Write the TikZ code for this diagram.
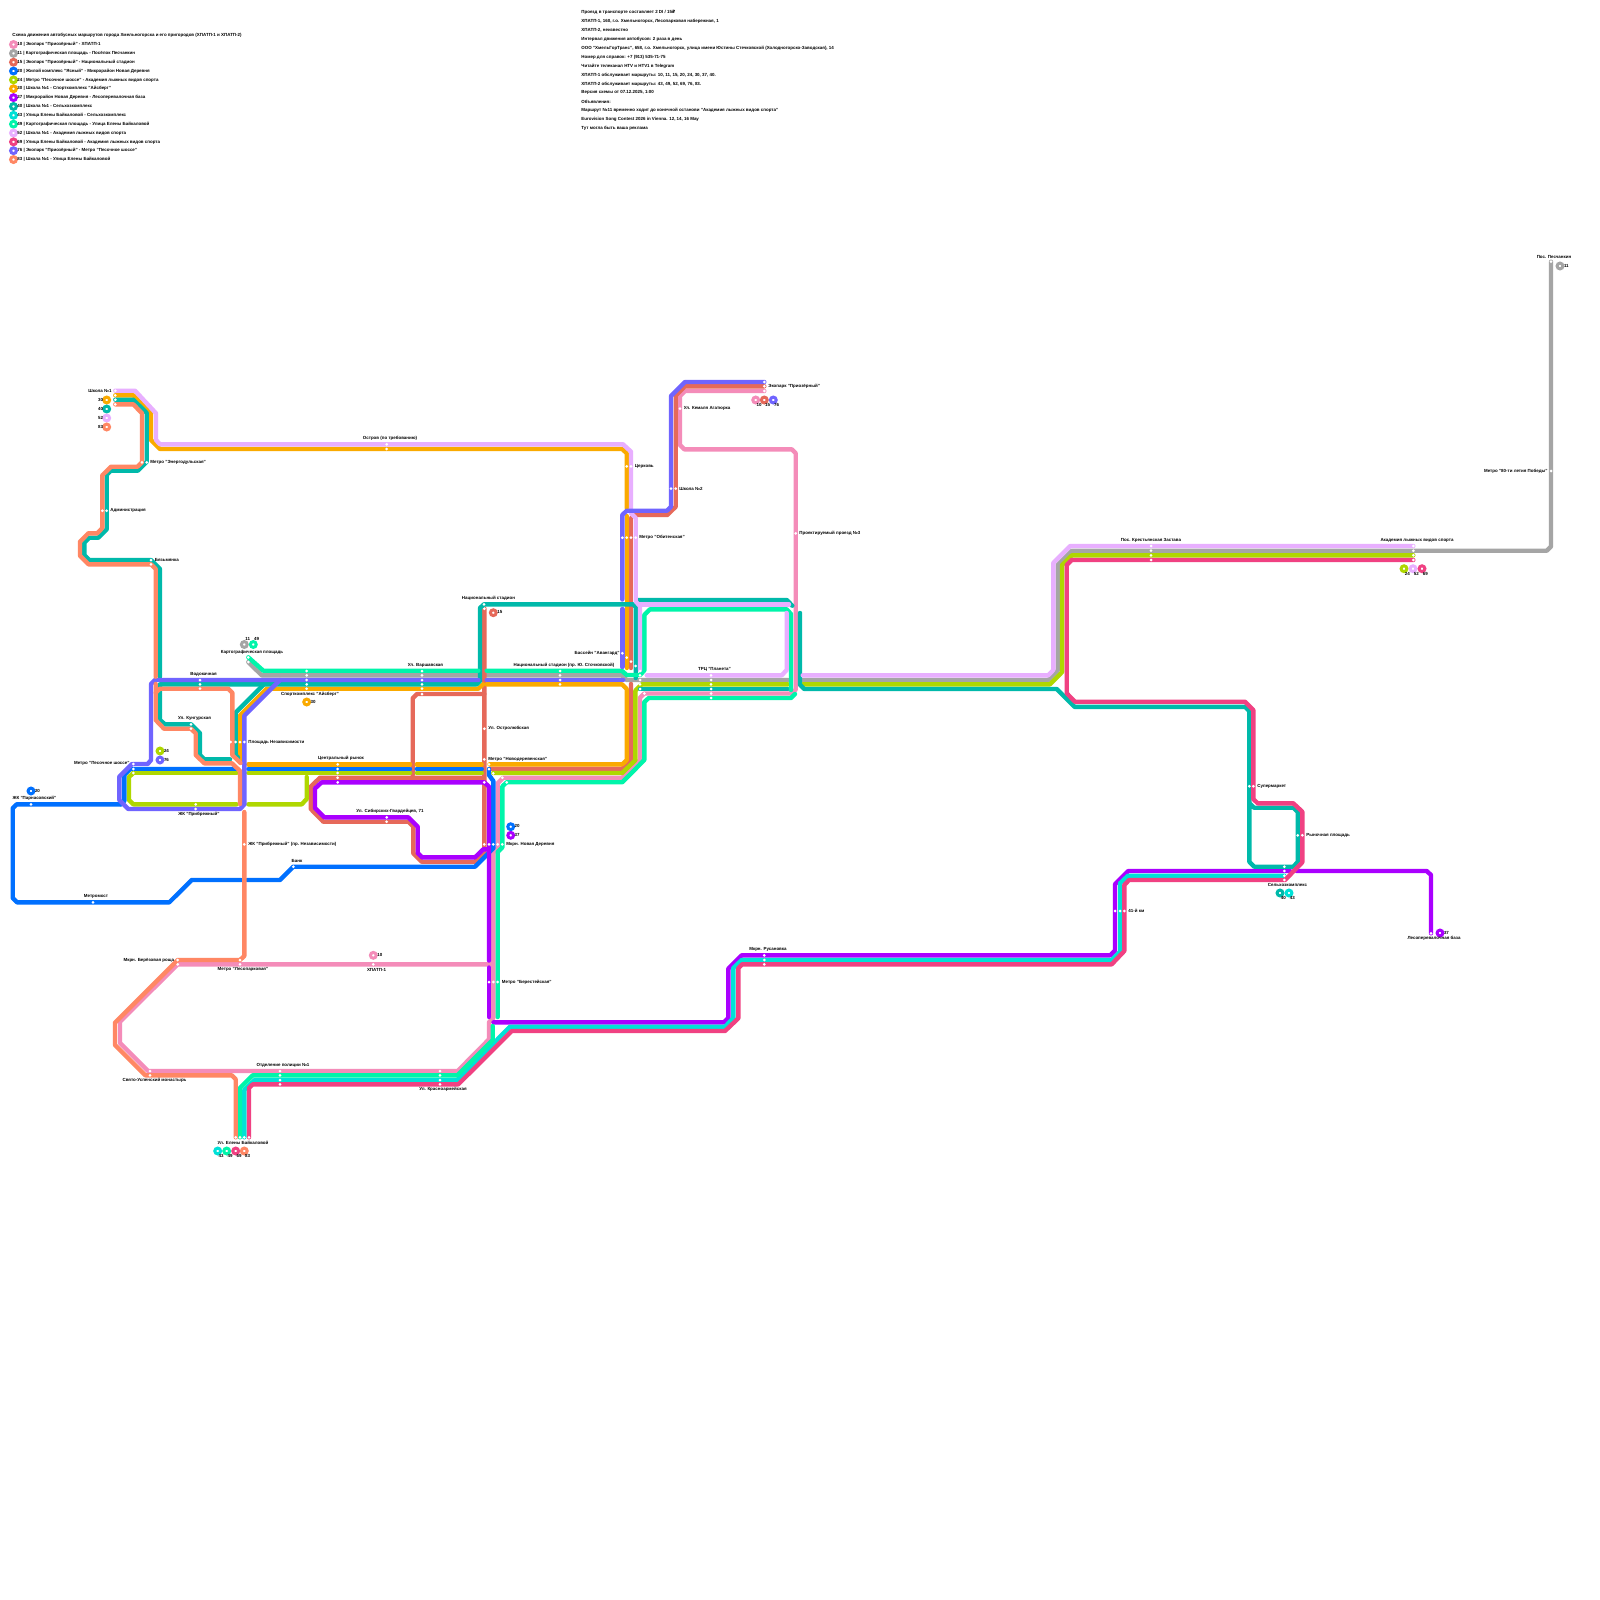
\documentclass[tikz,border=0pt]{standalone}
\usepackage{fontspec}
\setmainfont{Liberation Sans}
\newfontfamily\rublefont{DejaVu Sans}
\usepackage{xcolor}
\usepackage{tikz}
\definecolor{mypink}{RGB}{244,140,185}
\definecolor{mygray}{RGB}{165,165,165}
\definecolor{myred}{RGB}{230,105,90}
\definecolor{myblue}{RGB}{0,112,255}
\definecolor{mylime}{RGB}{175,215,0}
\definecolor{myamber}{RGB}{250,170,0}
\definecolor{mypurple}{RGB}{170,0,255}
\definecolor{myteal}{RGB}{0,185,170}
\definecolor{mycyan}{RGB}{0,225,215}
\definecolor{mymint}{RGB}{0,245,170}
\definecolor{mylilac}{RGB}{232,175,255}
\definecolor{mymagenta}{RGB}{240,65,130}
\definecolor{myviolet}{RGB}{112,100,255}
\definecolor{mycoral}{RGB}{255,135,100}
\tikzset{
  route/.style={line width=2.2pt, line cap=round, line join=round, draw=#1},
  ring/.style={circle, draw=#1, fill=white, line width=1.5pt,
    minimum size=2.9pt, inner sep=0pt, outer sep=0pt},
  stopdot/.style={circle, fill=white, minimum size=1.5pt, inner sep=0pt, outer sep=0pt},
  stoptext/.style={font=\fontsize{2.22}{2.8}\selectfont\bfseries, inner sep=0pt},
  stopright/.style={stoptext, anchor=west},
  stopleft/.style={stoptext, anchor=east},
  infotext/.style={font=\fontsize{2.22}{2.8}\selectfont\bfseries, inner sep=0pt, anchor=west}
}
\begin{document}
\begin{tikzpicture}[x=0.5pt,y=-0.5pt]
  \useasboundingbox (0,0) rectangle (1600,1600);
  \fill[white] (0,0) rectangle (1600,1600);
  % ── legend ──────────────────────────────────────────────────────────
  \node[infotext] (legendtitle) at (12,35) {Схема движения автобусных маршрутов города Хмельногорска и его пригородов (ХПАТП-1 и ХПАТП-2)};
  \foreach \col/\txt [count=\i from 0] in {
    mypink/10 | Экопарк "Приозёрный" - ХПАТП-1,
    mygray/11 | Картографическая площадь - Посёлок Песчанкин,
    myred/15 | Экопарк "Приозёрный" - Национальный стадион,
    myblue/20 | Жилой комплекс "Ясный" - Микрорайон Новая Деревня,
    mylime/24 | Метро "Песочное шоссе" - Академия лыжных видов спорта,
    myamber/30 | Школа №1 - Спорткомплекс "Айсберг",
    mypurple/37 | Микрорайон Новая Деревня - Лесоперевалочная база,
    myteal/40 | Школа №1 - Сельхозкомплекс,
    mycyan/43 | Улица Елены Байкаловой - Сельхозкомплекс,
    mymint/49 | Картографическая площадь - Улица Елены Байкаловой,
    mylilac/52 | Школа №1 - Академия лыжных видов спорта,
    mymagenta/69 | Улица Елены Байкаловой - Академия лыжных видов спорта,
    myviolet/76 | Экопарк "Приозёрный" - Метро "Песочное шоссе",
    mycoral/83 | Школа №1 - Улица Елены Байкаловой}
  {
    \node[ring=\col] (legring\i) at (13.5,{44.5+8.85*\i}) {};
    \node[infotext] (legtext\i) at (17,{44.5+8.85*\i}) {\txt};
  }
  % ── notes ───────────────────────────────────────────────────────────
  \foreach \txt [count=\i from 0] in {
    {Проезд в транспорте составляет 2 DI / 15{\rublefont ₽}},
    {ХПАТП-1, 160, г.о. Хмельногорск, Лесопарковая набережная, 1},
    {ХПАТП-2, неизвестно},
    Интервал движения автобусов: 2 раза в день,
    {ООО "ХмельГорТранс", 658, г.о. Хмельногорск, улица имени Юстины Стечковской (Холодногорско-Заводская), 14},
    Номер для справок: +7 (913) 535-71-75,
    Читайте телеканал HTV и HTV1 в Telegram,
    {ХПАТП-1 обслуживает маршруты: 10, 11, 15, 20, 24, 30, 37, 40.},
    {ХПАТП-2 обслуживает маршруты: 43, 49, 52, 69, 76, 83.},
    {Версия схемы от 07.12.2025, 1:00},
    Объявления:,
    Маршрут №11 временно ходит до конечной останови "Академия лыжных видов спорта",
    {Eurovision Song Contest 2026 in Vienna. 12, 14, 16 May},
    Тут могла быть ваша реклама}
  {
    \node[infotext] (note\i) at (581,{12.5+8.92*\i}) {\txt};
  }
  % ── routes, bottom to top ───────────────────────────────────────────
  % 10
  \draw[route=mypink] (764.3,391)--(685,391)--(680,396)--(680,445)--(684.3,449.3)--(791.7,449.3)--(795.7,453.3)--(795.7,689.5)--(791.7,693.5)--(644.3,693.5)--(640,697.8)--(640,760)--(622.3,777.7)--(503.3,777.7)--(497.7,783.3)--(497.7,848.3)--(493.3,852.7)--(493.3,1018)--(489,1022.3)--(489,1039.3)--(457.7,1071)--(148,1071)--(120,1043)--(120,1021.7)--(177.7,964.3)--(493.3,964.3);
  % 11
  \draw[route=mygray] (248.3,662)--(261.7,675.3)--(478.3,675.3);
  \draw[route=mygray] (486.7,675.3)--(621.7,675.3)--(626.7,680)--(788,680);
  \draw[route=mygray] (802.7,680)--(1048.3,680)--(1057.7,670.6)--(1057.7,565)--(1072,550.7)--(1546.7,550.7)--(1551,546.4)--(1551,261.7);
  % 15
  \draw[route=myred] (764.3,386.3)--(685,386.3)--(675.7,395.6)--(675.7,506.7)--(667.3,515)--(635,515);
  \draw[route=myred] (631,518)--(631,668);
  \draw[route=myred] (631,684)--(631,760)--(622.3,768.7)--(490,768.7);
  \draw[route=myred] (484.3,608.3)--(484.3,853)--(475,861.7)--(421.7,861.7)--(413.3,853.3)--(413.3,826.7)--(408.5,821.7)--(323.3,821.7)--(310.7,808.8)--(310.7,786.7)--(320,777.7)--(484.3,777.7);
  \draw[route=myred] (484.3,694)--(417,694)--(412.7,698.3)--(412.7,775);
  % 20
  \draw[route=myblue] (121,804.3)--(16.7,804.3)--(12.7,808.3)--(12.7,898)--(17,902.3)--(169.3,902.3)--(191.7,880)--(241,880);
  \draw[route=myblue] (247.5,880)--(280,880)--(293.3,866.7)--(475,866.7)--(493.3,848.3)--(493.3,781)--(489,775)--(489,769);
  \draw[route=myblue] (121,804.3)--(124.3,801)--(124.3,775)--(130.3,769)--(236.7,769);
  \draw[route=myblue] (248.3,769)--(410,769);
  \draw[route=myblue] (416.7,769)--(481.7,769);
  % 24
  \draw[route=mylime] (133.3,773)--(129,777)--(129,800)--(133.3,804.3)--(236.7,804.3);
  \draw[route=mylime] (133.3,773)--(236.7,773);
  \draw[route=mylime] (248.3,804.3)--(301.7,804.3)--(306.7,799)--(306.7,777);
  \draw[route=mylime] (248.3,773)--(410,773);
  \draw[route=mylime] (416.7,773)--(481.7,773);
  \draw[route=mylime] (493.3,773)--(622.3,773)--(635.4,760)--(635.4,690.6)--(641.7,684.3)--(788,684.3);
  \draw[route=mylime] (802.7,684.3)--(1050,684.3)--(1062.1,672)--(1062.1,565)--(1072,555.3)--(1413.3,555.3);
  % 30
  \draw[route=myamber] (115.3,395.3)--(133.3,395.3)--(151,413)--(151,440)--(160,449)--(622.3,449)--(626.7,453.3)--(626.7,508);
  \draw[route=myamber] (626.7,516)--(626.7,668);
  \draw[route=myamber] (240,761.7)--(240,715.4)--(266.7,688.7)--(478.3,688.7)--(483,684.3);
  \draw[route=myamber] (486.7,684.3)--(622,684.3)--(626.7,689)--(626.7,760)--(622.3,764.3)--(489.5,764.3);
  \draw[route=myamber] (248.3,764.3)--(410,764.3);
  \draw[route=myamber] (416.7,764.3)--(481.7,764.3);
  % 37
  \draw[route=mypurple] (1431,933.3)--(1431,875)--(1426.7,871)--(1296.7,871);
  \draw[route=mypurple] (1290,871)--(1128.3,871)--(1115,884.3)--(1115,950.5)--(1110.3,955.3)--(741.7,955.3)--(728.3,968.7)--(728.3,1018)--(724,1022.3)--(493.5,1022.3);
  \draw[route=mypurple] (489,1017)--(489,967.5);
  \draw[route=mypurple] (489,960.5)--(489,786.7)--(484.3,782.3)--(321.7,782.3)--(315,788.5)--(315,808)--(324.3,817.3)--(408.3,817.3)--(417.7,826.7)--(417.7,853)--(422,857.3)--(475,857.3)--(483.3,849.3)--(487,849.3);
  % 40
  \draw[route=myteal] (115.3,399.7)--(133.3,399.7)--(146.7,413)--(146.7,461.7)--(137.7,470.7)--(110.7,470.7)--(106.7,474.7)--(106.7,529.3)--(98.3,537.7)--(89.3,537.7)--(84.3,542.7)--(84.3,555)--(89.3,560)--(151,560)--(160,569)--(160,676.7);
  \draw[route=myteal] (160,720)--(160,684.3)--(476.7,684.3)--(480,681)--(480,608)--(484,604.3)--(633.3,604.3)--(635.7,607)--(635.7,678);
  \draw[route=myteal] (160,720)--(165,724.3)--(191,724.3)--(200,733.3)--(200,755)--(204.3,759.3)--(230,759.3);
  \draw[route=myteal] (264,684.3)--(235.7,712.6)--(235.7,755)--(238,757.5);
  \draw[route=myteal] (640,689)--(788,689);
  \draw[route=myteal] (638,600)--(786.7,600)--(792.3,605.7);
  \draw[route=myteal] (800,613)--(800,684.7)--(804.3,689)--(1056.7,689)--(1074.7,706.9)--(1245,706.9)--(1249.3,711)--(1249.3,861.7)--(1254.3,866.7)--(1293.3,866.7)--(1297.7,862)--(1297.7,812)--(1293.3,807.7)--(1254,807.7)--(1249.3,803);
  % 43
  \draw[route=mycyan] (244.3,1137.3)--(244.3,1090)--(254.7,1080)--(457.3,1080)--(510,1026.7)--(725,1026.7)--(733.3,1018)--(733.3,968)--(741.7,960)--(1111.7,960)--(1120,951.7)--(1120,883.3)--(1128,875.7)--(1284.3,875.7);
  % 49
  \draw[route=mymint] (240,1137.3)--(240,1088)--(252.7,1075.3)--(457.3,1075.3)--(492.7,1040)--(492.7,1026);
  \draw[route=mymint] (497.7,1017)--(497.7,852)--(502.3,847.5)--(502.3,786.5)--(506.7,782.2)--(622.3,782.2)--(644.3,760)--(644.3,702)--(648.7,698)--(791,698)--(795,694);
  \draw[route=mymint] (791,690)--(791,614)--(786.7,609.3)--(650,609.3)--(644.3,615)--(644.3,670.5)--(640,675)--(626.7,675)--(621.7,670.7)--(486.7,670.7);
  \draw[route=mymint] (478.3,670.7)--(263.3,670.7)--(248.3,657.3);
  % 52
  \draw[route=mylilac] (115.3,390.7)--(135,390.7)--(156,413.3)--(156,440)--(160,444.3)--(623,444.3)--(631,451.7)--(631,508);
  \draw[route=mylilac] (631,513.3)--(635.7,518)--(635.7,601.5)--(640,606)--(640,670);
  \draw[route=mylilac] (640,604.3)--(789,604.3);
  \draw[route=mylilac] (786.7,613)--(786.7,670)--(781.7,675.3)--(646.7,675.3);
  \draw[route=mylilac] (802.7,675.3)--(1048.3,675.3)--(1053.3,670)--(1053.3,563)--(1070.3,546)--(1413.3,546);
  % 69
  \draw[route=mymagenta] (249,1137.3)--(249,1088)--(252.7,1084.3)--(458.3,1084.3)--(511.7,1031)--(725,1031)--(738.3,1018.3)--(738.3,968.3)--(742,964.3)--(1111.7,964.3)--(1124.3,951)--(1124.3,885)--(1129,880)--(1285,880)--(1302.3,862.3)--(1302.3,811.7)--(1293.3,803.3)--(1257.7,803.3)--(1253.3,799)--(1253.3,710)--(1245,701.7)--(1075,701.7)--(1066.7,693.3)--(1066.7,565)--(1071.7,560)--(1413.3,560);
  % 76
  \draw[route=myviolet] (764.3,382)--(685,382)--(671,396)--(671,506.7)--(667,510.7)--(626.7,510.7)--(622.3,515)--(622.3,599.5);
  \draw[route=myviolet] (622.3,609)--(622.3,667);
  \draw[route=myviolet] (623.3,680)--(486.7,680);
  \draw[route=myviolet] (478.3,680)--(155,680)--(151,684)--(151,760)--(147.7,764)--(133.3,764);
  \draw[route=myviolet] (280,680)--(244.3,715.7)--(244.3,804.5)--(240,809)--(128.3,809)--(119.3,800)--(119.3,776.7)--(132,764);
  % 83
  \draw[route=mycoral] (115.3,404.3)--(133.3,404.3)--(142,413.3)--(142,462.3)--(137.6,466.7)--(111,466.7)--(102.3,475.3)--(102.3,528)--(97.3,533.3)--(88.3,533.3)--(80,541.7)--(80,555.7)--(88.5,564.3)--(151,564.3)--(155.7,569)--(155.7,676.7);
  \draw[route=mycoral] (155.7,684)--(155.7,720)--(164,728.7)--(191,728.7)--(195.7,733.3)--(195.7,755)--(204.3,763.3)--(232,763.3)--(240,771)--(240,804);
  \draw[route=mycoral] (155.7,692.7)--(160,688.7)--(228.3,688.7)--(232.3,692.7)--(232.3,755)--(240.5,763);
  \draw[route=mycoral] (244.3,812)--(244.3,956)--(240,960)--(177.7,960)--(115,1022.7)--(115,1045)--(145.3,1075.3)--(231.7,1075.3)--(235.7,1079.3)--(235.7,1137.3);
  % ── stops ───────────────────────────────────────────────────────────
  \foreach \sx/\sy [count=\i] in {
    115.3/390.7,115.3/395.3,115.3/399.7,115.3/404.3,142/462.3,146.7/462.3,102.3/510.7,106.7/510.7,
    151/560,151/564.3,386.7/444.3,386.7/449,626.7/466.3,631/466.3,622.3/537.7,626.7/537.7,631/537.7,635.7/537.7,
    671/488.7,675.7/488.7,680/408.7,764.3/382,764.3/386.3,764.3/391,795.7/533.3,
    484/604.3,484.3/608.7,622.3/653.3,626.7/657.7,631/661.7,635.7/666,
    422/671,422/675.3,422/680,422/684.3,422/688.7,422/694,560/671,560/675.3,560/680,560/684.3,
    306.7/671,306.7/675.3,306.7/680,306.7/684.3,306.7/688.7,248.3/657.3,248.3/662,
    200/680,200/684.3,200/688.7,191/724.3,191/728.7,230.7/742,235.7/742,240/742,244.3/742,
    133.3/764,133.3/769,133.3/773,31/804.3,195.7/804.3,195.7/809,244.3/844.3,93/902.3,293.3/866.7,
    337.7/764.3,337.7/769,337.7/773,337.7/777.7,337.7/782.3,484.3/728.7,484.3/759.3,489/764.3,489/769,493.3/773.3,
    484.3/782.3,502.3/777.7,506.7/782.3,484.3/844.3,489/844.3,493.3/844.3,497.7/844.3,502.3/844.3,
    386.7/817.3,386.7/821.7,489/982,493.3/982,497.7/982,373.3/964.3,177.7/960,177.7/964.3,240/960,240/964.3,
    150/1071,150/1075.3,280/1071,280/1075.3,280/1080,280/1084.3,440/1071,440/1075.3,440/1080,440/1084.3,
    235.7/1137.3,240/1137.3,244.3/1137.3,249/1137.3,764.3/955.3,764.3/960,764.3/964.3,
    1115/911,1120/911,1124.3/911,1284.3/866.7,1284.3/871,1284.3/875.7,1284.3/880,1297.7/835.3,1302.3/835.3,
    1249.3/786.3,1253.3/786.3,1431/933.3,1151/546,1151/550.7,1151/555.3,1151/560,
    1413.3/546,1413.3/550.7,1413.3/555.3,1413.3/560,1551/261.7,1551/471,
    711/675.3,711/680,711/684.3,711/689,711/693.5,711/698,640/671,640/675.3,640/680,640/684.3,640/689,644.3/693.5}
  {
    \node[stopdot] (stop\i) at (\sx,\sy) {};
  }
  % ── terminus rings ──────────────────────────────────────────────────
  \foreach \rx/\ry/\col/\num [count=\i] in {
    493.3/612.7/myred/15,306.7/702/myamber/30,160/751/mylime/24,160/760/myviolet/76,
    31/791/myblue/20,510.7/826.7/myblue/20,510.7/835.3/mypurple/37,373.3/955.3/mypink/10,
    1440/933/mypurple/37,1560/266/mygray/11}
  {
    \node[ring=\col] (ringr\i) at (\rx,\ry) {};
    \node[stopright] (numr\i) at (\rx+3.6,\ry-0.5) {\num};
  }
  \foreach \rx/\ry/\col/\num [count=\i] in {
    755.7/400/mypink/10,764.3/400/myred/15,773.3/400/myviolet/76,
    217.7/1151/mycyan/43,226.7/1151/mymint/49,235.7/1151/mymagenta/69,244.3/1151/mycoral/83,
    1280/893/myteal/40,1289/893/mycyan/43,1404/568.7/mylime/24,1413/568.7/mylilac/52,1422/568.7/mymagenta/69}
  {
    \node[ring=\col] (ringb\i) at (\rx,\ry) {};
    \node[stoptext] (numb\i) at (\rx+3.3,\ry+5.2) {\num};
  }
  \foreach \rx/\ry/\col/\num [count=\i] in {
    106.7/400/myamber/30,106.7/409/myteal/40,106.7/418/mylilac/52,106.7/427/mycoral/83}
  {
    \node[ring=\col] (ringl\i) at (\rx,\ry) {};
    \node[stopleft] (numl\i) at (\rx-3.2,\ry-0.5) {\num};
  }
  \node[ring=mygray] (ringgray) at (244.3,644.5) {};
  \node[ring=mymint] (ringmint) at (253.3,644.5) {};
  \node[stoptext] (numgray) at (247.7,638.5) {11};
  \node[stoptext] (nummint) at (256.7,638.5) {49};
  % ── stop names ──────────────────────────────────────────────────────
  \node[stopleft] (shkola) at (112,390.7) {Школа №1};
  \node[stopright] (energo) at (150,462.3) {Метро "Энергодульская"};
  \node[stopright] (admin) at (110,510.7) {Администрация};
  \node[stopright] (byazma) at (154.5,559.5) {Бязьмянка};
  \node[stoptext] (ostrov) at (390,438.5) {Остров (по требованию)};
  \node[stopright] (tserkov) at (634.5,466.3) {Церковь};
  \node[stopright] (obiten) at (639,537.7) {Метро "Обитенская"};
  \node[stopright] (shkoladva) at (679,488.7) {Школа №2};
  \node[stopright] (kemal) at (683.5,408.7) {Ул. Кемаля Агатюрка};
  \node[stopright] (ekopark) at (768,386.3) {Экопарк "Приозёрный"};
  \node[stopright] (proekt) at (799,533.3) {Проектируемый проезд №3};
  \node[stoptext] (natsion) at (488.5,598.5) {Национальный стадион};
  \node[stopleft] (avangard) at (620,653.3) {Бассейн "Авангард"};
  \node[stoptext] (varshav) at (425.5,665.5) {Ул. Варшавская};
  \node[stoptext] (natsiondva) at (564,665.5) {Национальный стадион (пр. Ю. Сточковской)};
  \node[stoptext] (aisberg) at (310,694) {Спорткомплекс "Айсберг"};
  \node[stoptext] (karto) at (252,652) {Картографическая площадь};
  \node[stoptext] (vodokach) at (203.5,674) {Водокачная};
  \node[stoptext] (kungur) at (194.5,718.5) {Ул. Кунгурская};
  \node[stopright] (nezav) at (248,742) {Площадь Независимости};
  \node[stopleft] (pesoch) at (130,763.5) {Метро "Песочное шоссе"};
  \node[stoptext] (parnas) at (34.5,798.5) {ЖК "Парнасовский"};
  \node[stoptext] (pribr) at (199,814) {ЖК "Прибрежный"};
  \node[stopright] (pribrdva) at (248,844.3) {ЖК "Прибрежный" (пр. Независимости)};
  \node[stoptext] (metromost) at (96,896) {Метромост};
  \node[stoptext] (bank) at (297,860.5) {Банк};
  \node[stoptext] (rynok) at (341,758.5) {Центральный рынок};
  \node[stopright] (ostrol) at (488,728.7) {Ул. Остролюбская};
  \node[stopright] (novoder) at (488,759) {Метро "Новодеревенская"};
  \node[stopright] (novaya) at (506,844.3) {Мкрн. Новая Деревня};
  \node[stoptext] (sibir) at (390,811.5) {Ул. Сибирских-Гвардейцев, 71};
  \node[stopright] (berest) at (501.5,982) {Метро "Берестейская"};
  \node[stoptext] (hpatp) at (376.5,969.5) {ХПАТП-1};
  \node[stopleft] (bereza) at (174.5,960) {Мкрн. Берёзовая роща};
  \node[stoptext] (lesopark) at (243,969.5) {Метро "Лесопарковая"};
  \node[stoptext] (uspen) at (154.5,1080.7) {Свято-Успенский монастырь};
  \node[stoptext] (politsiya) at (283,1065) {Отделение полиции №1};
  \node[stoptext] (krasno) at (443,1089.5) {Ул. Красноармейская};
  \node[stoptext] (baikal) at (243,1142.5) {Ул. Елены Байкаловой};
  \node[stoptext] (rusan) at (768,949.5) {Мкрн. Русановка};
  \node[stopright] (kilom) at (1128,911) {41-й км};
  \node[stoptext] (selhoz) at (1287.5,885) {Сельхозкомплекс};
  \node[stopright] (rynochn) at (1306,835.3) {Рыночная площадь};
  \node[stopright] (super) at (1257,786.3) {Супермаркет};
  \node[stoptext] (lesoper) at (1434,938.5) {Лесоперевалочная база};
  \node[stoptext] (zastava) at (1151,540.5) {Пос. Крестьянская Застава};
  \node[stoptext] (akadem) at (1417,540.5) {Академия лыжных видов спорта};
  \node[stoptext] (peschank) at (1554,256.5) {Пос. Песчанкин};
  \node[stopleft] (pobeda) at (1548,471) {Метро "80-ти летия Победы"};
  \node[stoptext] (planeta) at (714.5,669.5) {ТРЦ "Планета"};
\end{tikzpicture}
\end{document}
